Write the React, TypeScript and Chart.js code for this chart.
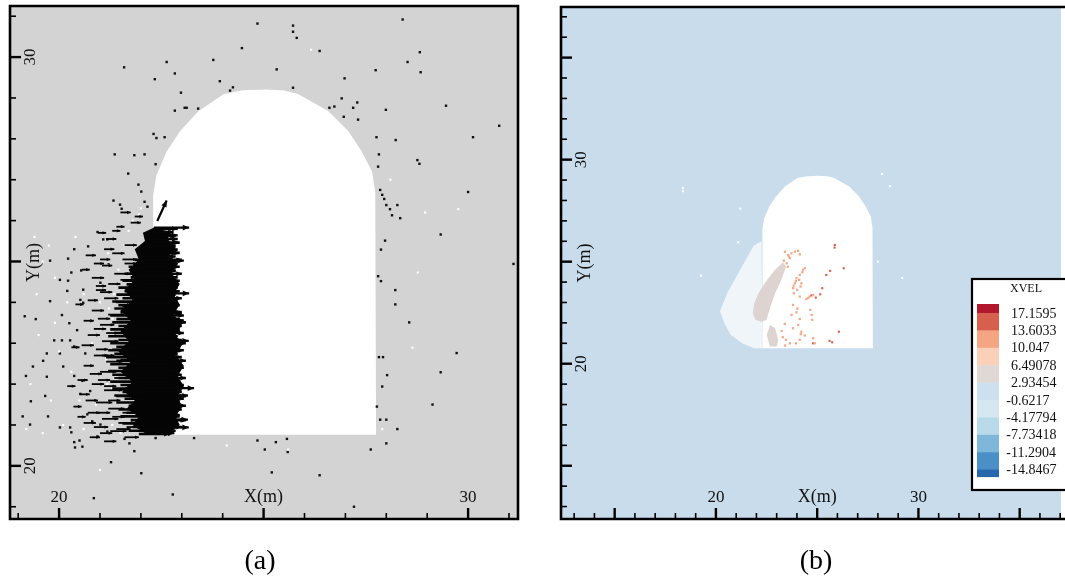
import React, { useEffect, useRef } from 'react';
import { Chart, registerables } from 'chart.js';
Chart.register(...registerables);

// ---------- shared tunnel outline (m) ----------
const tunnelX = [22.30, 22.30, 22.38, 22.63, 22.96, 23.41, 24.03, 24.50, 25.06, 25.50, 25.84, 26.58, 27.07, 27.40, 27.65, 27.73, 27.75];
const tunnelY = [20.76, 26.62, 27.11, 27.69, 28.19, 28.68, 29.10, 29.19, 29.21, 29.18, 29.10, 28.68, 28.19, 27.69, 27.20, 26.70, 20.76];

// ---------- panel (a) ----------
const rangeAX = [18.80, 31.22];
const rangeAY = [18.70, 31.25];

const blackDots: number[][] = [
  [24.85, 30.82], [25.72, 30.77], [25.72, 30.62], [25.81, 30.47], [28.4, 30.92], [24.47, 30.22], [26.37, 30.15], [23.77, 29.93], [22.63, 29.88], [21.59, 29.75],
  [28.52, 29.88], [28.82, 30.12], [28.84, 29.63], [27.74, 29.68], [25.32, 29.70], [22.83, 29.60], [22.34, 29.46], [23.93, 29.41], [26.98, 29.48], [24.18, 29.18],
  [24.25, 29.26], [22.98, 29.13], [25.72, 29.25], [26.91, 28.99], [27.29, 28.89], [26.61, 28.76], [26.73, 28.79], [27.19, 28.76], [27.99, 28.71], [29.46, 28.81],
  [23.07, 28.76], [23.12, 28.76], [23.40, 28.74], [22.83, 28.69], [27.31, 28.47], [26.96, 28.54], [30.76, 28.32], [30.12, 28.04], [27.76, 28.04], [28.23, 27.97],
  [22.31, 28.12], [22.38, 28.02], [22.58, 28.04], [28.76, 27.48], [21.36, 27.62], [21.84, 27.60], [22.09, 27.62], [22.36, 27.38], [21.69, 27.15], [21.49, 26.39],
  [22.09, 26.46], [22.16, 26.34], [21.94, 26.88], [22.01, 26.71],
  [27.82, 27.62], [27.80, 27.32], [27.85, 26.75], [27.90, 26.63], [27.95, 26.53], [28.00, 26.38], [28.09, 26.28], [28.14, 26.13], [28.27, 26.38], [28.34, 26.06],
  [28.81, 27.39], [30.00, 26.70], [29.33, 25.66], [27.97, 25.51], [27.87, 25.29], [27.80, 24.64], [27.87, 24.52], [28.22, 24.30], [28.22, 23.95], [28.56, 23.51],
  [31.11, 24.94], [27.82, 22.66], [27.92, 22.66], [29.72, 22.76], [29.33, 22.29], [28.02, 22.22], [27.90, 21.94], [29.13, 21.50], [27.77, 21.45], [27.85, 21.13],
  [28.00, 21.13], [28.27, 20.90], [28.00, 20.55], [27.62, 20.40],
  [24.85, 20.62], [25.03, 20.40], [25.30, 20.58], [25.57, 20.66], [25.59, 20.34], [23.30, 20.68], [25.20, 19.84], [26.37, 19.77], [22.78, 19.30], [20.85, 19.21],
  [27.21, 19.00], [22.01, 19.82], [21.27, 20.09], [21.84, 20.36], [21.60, 20.66], [21.72, 20.55], [20.37, 20.58], [20.50, 20.62], [22.36, 20.68],
  [21.33, 26.49], [21.53, 26.29], [20.94, 25.72], [21.18, 25.54], [21.08, 25.54], [20.71, 25.37], [20.37, 25.30], [20.22, 25.07], [19.78, 25.02], [20.02, 24.55],
  [20.30, 24.73], [20.54, 24.78], [20.22, 24.53], [21.01, 24.48], [21.21, 24.93], [20.59, 24.31], [20.52, 24.06], [20.59, 23.99], [19.78, 24.03], [20.20, 24.28],
  [19.16, 23.66], [19.43, 23.59], [20.07, 23.69], [20.25, 23.49], [20.44, 23.32], [19.88, 23.07], [20.07, 23.07], [20.27, 23.07], [19.70, 22.75], [20.02, 22.75],
  [20.64, 22.75], [20.37, 22.92], [19.36, 22.43], [19.61, 22.57], [20.10, 22.43], [19.19, 22.20], [19.70, 22.18], [20.37, 22.20], [20.57, 22.08], [20.76, 21.83],
  [19.66, 21.71], [19.31, 21.58], [20.52, 21.76], [19.11, 21.21], [19.73, 21.21], [19.29, 21.01], [20.27, 20.94], [20.30, 20.82], [20.02, 20.94], [20.69, 21.26],
  [20.81, 21.09], [21.01, 21.01], [20.39, 20.45], [20.57, 20.47], [20.94, 20.72], [21.18, 20.84],
];

const whiteDots: number[][] = [
  [19.75, 25.39], [19.60, 25.00], [19.90, 24.60], [20.20, 24.00], [19.50, 23.20], [20.00, 22.80], [20.30, 22.30], [19.80, 21.60], [20.10, 21.00], [20.60, 20.90],
  [20.90, 21.50], [21.10, 22.30], [21.30, 23.00], [21.00, 24.00], [21.20, 24.90], [21.60, 25.40], [21.80, 26.00], [22.00, 26.30], [28.95, 26.20], [28.77, 24.73],
  [28.64, 22.89], [29.76, 26.28], [26.16, 30.18], [21.35, 24.20], [21.30, 23.60], [21.28, 22.70], [21.30, 21.90], [21.38, 21.20], [21.50, 20.80], [21.45, 24.80],
  [19.30, 22.00], [19.45, 24.20], [20.40, 25.60], [24.10, 20.50], [25.60, 20.40], [28.10, 27.00], [27.90, 20.90], [19.20, 20.90],
  [21.20, 25.20], [21.25, 24.45], [21.22, 23.85], [21.18, 23.25], [21.15, 22.60], [21.18, 22.00], [21.22, 21.40], [21.30, 21.00], [19.40, 25.60], [20.60, 24.20],
  [20.80, 23.00], [19.90, 23.50], [20.50, 21.60], [19.60, 20.80], [21.00, 19.90], [21.70, 25.75], [21.95, 26.15],
];

// solid centre of the overlapping arrows (ragged outline)
const coreX = [22.30, 22.75, 22.65, 22.85, 22.70, 22.90, 22.75, 22.95, 22.80, 22.95, 22.80, 23.00, 22.85, 23.00, 22.85, 23.05, 22.90, 23.05, 22.90, 23.00, 22.85, 22.95, 22.70,
  22.10, 21.80, 21.95, 21.65, 21.85, 21.55, 21.80, 21.50, 21.75, 21.45, 21.70, 21.50, 21.75, 21.50, 21.80, 21.60, 21.85, 21.70, 21.95, 21.85, 22.10, 22.05];
const coreY = [25.82, 25.72, 25.55, 25.35, 25.15, 24.95, 24.70, 24.45, 24.20, 23.95, 23.70, 23.45, 23.20, 22.95, 22.70, 22.45, 22.20, 21.95, 21.70, 21.45, 21.20, 21.00, 20.80,
  20.80, 21.00, 21.20, 21.40, 21.60, 21.85, 22.05, 22.30, 22.55, 22.80, 23.05, 23.30, 23.55, 23.80, 24.05, 24.30, 24.55, 24.80, 25.05, 25.30, 25.50, 25.70];

// rows of velocity arrows: y, tail x, tip x
const rowY = [20.78, 20.86, 20.95, 21.04, 21.12, 21.21, 21.30, 21.38, 21.47, 21.55, 21.64, 21.72, 21.81, 21.89, 21.98, 22.06, 22.15, 22.23, 22.32, 22.40,
  22.49, 22.57, 22.66, 22.74, 22.83, 22.91, 23.00, 23.08, 23.17, 23.25, 23.34, 23.42, 23.51, 23.59, 23.68, 23.76, 23.85, 23.93, 24.02, 24.10,
  24.19, 24.27, 24.36, 24.44, 24.53, 24.61, 24.70, 24.78, 24.87, 24.95, 25.04, 25.12, 25.21, 25.29, 25.38, 25.46, 25.55, 25.63, 25.72, 25.80];
const rowTail = [21.95, 21.70, 21.80, 21.55, 21.75, 21.50, 21.65, 21.45, 21.70, 21.40, 21.60, 21.35, 21.55, 21.30, 21.50, 21.25, 21.45, 21.30, 21.20, 21.45,
  21.25, 21.40, 21.15, 21.35, 21.20, 21.40, 21.25, 21.45, 21.20, 21.35, 21.25, 21.45, 21.30, 21.40, 21.25, 21.50, 21.35, 21.45, 21.30, 21.55,
  21.40, 21.60, 21.45, 21.65, 21.55, 21.75, 21.60, 21.80, 21.70, 21.90, 21.85, 22.00, 21.95, 22.10, 22.05, 22.20, 22.15, 22.25, 22.20, 22.30];
const rowTip = [22.70, 22.85, 23.00, 22.90, 23.10, 22.95, 22.85, 23.00, 23.10, 22.95, 23.05, 23.15, 23.00, 22.90, 23.05, 22.95, 23.10, 23.00, 22.85, 23.05,
  22.95, 23.10, 23.00, 22.90, 23.05, 22.95, 23.10, 23.00, 22.90, 23.05, 22.95, 23.00, 23.10, 22.95, 23.05, 23.00, 22.85, 22.95, 22.90, 23.00,
  22.85, 22.95, 22.90, 22.85, 22.95, 22.90, 23.00, 22.85, 22.95, 22.90, 23.00, 22.85, 22.95, 22.90, 22.85, 22.95, 22.90, 22.85, 22.80, 22.90];

// long velocity arrows reaching into the opening: tail x, tail y, dx, dy
const longArrowX = [22.32, 22.30, 22.25, 22.10, 22.10, 22.00, 21.95, 22.00, 21.90, 21.90, 21.90, 21.90, 21.85, 21.85, 21.85, 21.85, 21.90, 21.95, 21.95, 22.00, 22.00, 22.05, 22.10, 22.20, 22.40];
const longArrowY = [25.83, 25.64, 25.46, 25.21, 25.02, 24.77, 24.52, 24.22, 23.98, 23.73, 23.56, 23.31, 23.06, 22.82, 22.57, 22.32, 22.08, 21.90, 21.70, 21.46, 21.25, 21.13, 20.94, 20.80, 25.99];
const longArrowU = [0.86, 0.60, 0.67, 0.80, 0.95, 0.85, 0.87, 1.18, 0.92, 1.10, 1.15, 1.05, 1.32, 1.10, 1.15, 1.06, 1.05, 1.35, 1.15, 1.00, 0.95, 1.10, 1.07, 0.62, 0.23];
const longArrowV = [0, 0, 0, 0, 0, 0, 0, 0, 0, 0, 0, 0, 0, 0, 0, 0, 0, 0, 0, 0, 0, 0, 0, 0, 0.50];

// short arrows in the fringe left of the core
const shortArrowX = [20.95, 21.15, 21.40, 21.60, 21.75, 21.30, 21.55, 21.05, 21.35, 21.20, 21.50, 20.90, 21.10, 21.40, 20.80, 21.20, 21.00, 21.35, 20.70, 21.05, 21.30, 20.85, 21.15, 20.60, 21.00, 21.35, 20.80, 21.10, 20.50, 21.40, 20.90, 21.20, 20.70, 21.05, 21.45, 20.85, 21.25, 21.60, 21.50, 21.85, 20.40, 20.30, 20.20, 20.55, 20.45, 21.65, 21.55, 21.50, 21.55, 21.60,
  20.65, 20.80, 20.70, 20.95, 20.60, 20.85, 20.55, 20.90, 20.75, 20.45, 20.95, 20.65, 20.35, 20.95, 20.60, 21.00, 21.10, 20.75, 21.10, 21.30, 21.00, 20.85, 21.00, 20.90, 21.15, 21.05, 21.10, 21.20, 21.30, 21.40];
const shortArrowY = [25.70, 25.55, 25.85, 25.40, 25.95, 25.20, 25.05, 24.90, 24.70, 24.45, 24.55, 24.30, 24.10, 24.00, 23.80, 23.70, 23.45, 23.35, 23.20, 23.05, 22.85, 22.70, 22.55, 22.45, 22.30, 22.15, 22.00, 21.85, 21.75, 21.70, 21.55, 21.40, 21.30, 21.15, 21.05, 20.95, 20.85, 20.70, 26.20, 26.10, 23.95, 22.90, 21.95, 24.80, 21.20, 20.95, 21.30, 22.60, 23.90, 24.95,
  25.15, 24.60, 24.05, 23.60, 23.55, 23.35, 22.95, 22.85, 22.25, 22.10, 22.10, 21.60, 21.45, 21.30, 21.05, 20.80, 20.60, 20.70, 25.30, 25.75, 25.05, 24.95, 24.25, 24.40, 23.25, 22.70, 21.95, 21.60, 21.20, 20.90];
const shortArrowU = [0.20, 0.25, 0.20, 0.30, 0.25, 0.30, 0.35, 0.25, 0.40, 0.30, 0.35, 0.25, 0.35, 0.35, 0.30, 0.40, 0.35, 0.35, 0.30, 0.40, 0.40, 0.35, 0.40, 0.25, 0.40, 0.35, 0.30, 0.45, 0.25, 0.40, 0.40, 0.40, 0.30, 0.40, 0.40, 0.35, 0.40, 0.35, 0.25, 0.20, 0.20, 0.20, 0.20, 0.20, 0.20, 0.35, 0.40, 0.35, 0.35, 0.30,
  0.25, 0.30, 0.25, 0.30, 0.25, 0.30, 0.30, 0.30, 0.30, 0.25, 0.30, 0.30, 0.20, 0.30, 0.30, 0.30, 0.30, 0.25, 0.25, 0.20, 0.25, 0.25, 0.30, 0.25, 0.30, 0.30, 0.30, 0.30, 0.30, 0.35];

// ---------- panel (b) ----------
const rangeBX = [12.35, 37.04];
const rangeBY = [12.39, 37.48];

const cloudX = [22.25, 21.87, 21.22, 20.57, 20.20, 20.41, 20.73, 21.30, 21.87, 22.30];
const cloudY = [26.00, 25.79, 24.64, 23.48, 22.57, 22.00, 21.42, 21.00, 20.76, 20.76];

const blobX = [23.32, 23.46, 23.32, 23.16, 22.92, 22.75, 22.59, 22.51, 22.26, 21.94, 21.82, 21.89, 22.10, 22.35, 22.59, 22.92];
const blobY = [24.97, 24.76, 24.35, 23.94, 23.45, 22.96, 22.47, 22.15, 22.06, 22.15, 22.47, 22.96, 23.45, 23.86, 24.19, 24.60];
const blob2X = [22.67, 22.92, 23.08, 23.00, 22.67, 22.51];
const blob2Y = [21.90, 21.74, 21.17, 20.84, 20.84, 21.41];

const orangeDots: number[][] = [
  [23.41, 25.49], [23.57, 25.33], [23.73, 25.41], [23.90, 25.49], [24.06, 25.53], [24.14, 25.36], [23.65, 25.17], [23.49, 24.92], [24.39, 24.68], [24.27, 24.48],
  [24.14, 24.35], [23.98, 24.19], [23.90, 23.94], [23.81, 23.70], [23.85, 23.45], [24.01, 23.62], [24.22, 23.94], [24.11, 24.11], [24.63, 23.29], [24.80, 23.37],
  [24.47, 23.17], [24.14, 23.29], [23.81, 22.88], [23.98, 22.52], [24.14, 22.19], [24.06, 21.90], [24.22, 21.57], [24.39, 21.38], [24.14, 21.17], [23.95, 21.00],
  [23.65, 21.00], [23.46, 21.17], [23.41, 20.89], [24.66, 22.64], [24.73, 22.39], [24.76, 22.15], [24.80, 21.25], [24.88, 21.00], [23.73, 22.39], [23.81, 21.74],
  [24.30, 24.60], [23.95, 24.05], [23.84, 23.82], [24.18, 23.78], [24.02, 22.70], [24.19, 21.45], [24.55, 23.22], [23.60, 25.25], [23.35, 25.05], [23.55, 24.75],
  [23.30, 21.30], [23.25, 21.60], [23.40, 21.95],
];
const redDots: number[][] = [
  [25.86, 25.69], [26.31, 24.68], [25.64, 24.55], [25.45, 24.35], [25.25, 23.70], [25.15, 23.40], [24.71, 23.34], [24.93, 23.24], [26.07, 21.57], [25.61, 21.12],
  [25.74, 21.05], [24.80, 21.00], [25.87, 25.82],
];
const whiteDotsB: number[][] = [
  [18.37, 28.60], [18.37, 28.45], [19.27, 24.31], [29.20, 24.20], [28.20, 29.30], [28.60, 28.70], [21.20, 27.60], [28.00, 25.00], [22.80, 27.40], [21.10, 25.95],
];

const legendTitle = 'XVEL';
const legendLevels = ['17.1595', '13.6033', '10.047', '6.49078', '2.93454', '-0.6217', '-4.17794', '-7.73418', '-11.2904', '-14.8467'];
const legendColors = ['#b2182b', '#d6604d', '#f4a582', '#fbd0b9', '#e0d8d5', '#cde0ef', '#d6e7f2', '#badaea', '#7fb7da', '#4a8fc6', '#2566ad'];

const FONT = '"Liberation Serif", "Times New Roman", serif';
const TICK_STEP = 1;
const MAJOR_EVERY = 5;
const LABEL_EVERY = 10;
const X_TITLE_AT = 25;

function pathPoly(ctx: CanvasRenderingContext2D, chart: any, xs: number[], ys: number[]) {
  const sx = chart.scales.x, sy = chart.scales.y;
  ctx.beginPath();
  xs.forEach((x, i) => {
    const px = sx.getPixelForValue(x), py = sy.getPixelForValue(ys[i]);
    if (i === 0) ctx.moveTo(px, py); else ctx.lineTo(px, py);
  });
  ctx.closePath();
}

function drawArrow(ctx: CanvasRenderingContext2D, x0: number, y0: number, x1: number, y1: number, head: number, width: number) {
  ctx.lineWidth = width;
  ctx.beginPath(); ctx.moveTo(x0, y0); ctx.lineTo(x1, y1); ctx.stroke();
  const a = Math.atan2(y1 - y0, x1 - x0);
  ctx.beginPath();
  ctx.moveTo(x1, y1);
  ctx.lineTo(x1 - head * Math.cos(a - 0.42), y1 - head * Math.sin(a - 0.42));
  ctx.lineTo(x1 - head * Math.cos(a + 0.42), y1 - head * Math.sin(a + 0.42));
  ctx.closePath(); ctx.fill();
}

function drawAxes(chart: any, opts: { rightBorder: boolean; panel: string; panelX: number }) {
  const ctx: CanvasRenderingContext2D = chart.ctx;
  const ca = chart.chartArea;
  const sx = chart.scales.x, sy = chart.scales.y;
  ctx.save();
  ctx.strokeStyle = '#000';
  ctx.fillStyle = '#111';
  ctx.lineWidth = 2.6;
  ctx.beginPath();
  if (opts.rightBorder) {
    ctx.rect(ca.left, ca.top, ca.right - ca.left, ca.bottom - ca.top);
  } else {
    ctx.moveTo(ca.right + 5, ca.top); ctx.lineTo(ca.left, ca.top); ctx.lineTo(ca.left, ca.bottom); ctx.lineTo(ca.right + 5, ca.bottom);
  }
  ctx.stroke();
  for (let v = Math.ceil(sx.min); v <= sx.max; v += TICK_STEP) {
    const px = sx.getPixelForValue(v);
    const major = v % MAJOR_EVERY === 0;
    ctx.lineWidth = major ? 2.4 : 1.6;
    ctx.beginPath(); ctx.moveTo(px, ca.bottom); ctx.lineTo(px, ca.bottom - (major ? 11 : 6)); ctx.stroke();
    if (v % LABEL_EVERY === 0) {
      ctx.font = `17px ${FONT}`; ctx.textAlign = 'center'; ctx.textBaseline = 'middle';
      ctx.fillText(String(v), px, ca.bottom - 21);
    }
  }
  for (let v = Math.ceil(sy.min); v <= sy.max; v += TICK_STEP) {
    const py = sy.getPixelForValue(v);
    const major = v % MAJOR_EVERY === 0;
    ctx.lineWidth = major ? 2.4 : 1.6;
    ctx.beginPath(); ctx.moveTo(ca.left, py); ctx.lineTo(ca.left + (major ? 11 : 6), py); ctx.stroke();
    if (v % LABEL_EVERY === 0) {
      ctx.save();
      ctx.translate(ca.left + 21, py); ctx.rotate(-Math.PI / 2);
      ctx.font = `17px ${FONT}`; ctx.textAlign = 'center'; ctx.textBaseline = 'middle';
      ctx.fillText(String(v), 0, 0);
      ctx.restore();
    }
  }
  ctx.font = `18px ${FONT}`; ctx.textAlign = 'center'; ctx.textBaseline = 'middle';
  ctx.fillText('X(m)', sx.getPixelForValue(X_TITLE_AT), ca.bottom - 22);
  ctx.save();
  ctx.translate(ca.left + 24, (ca.top + ca.bottom) / 2); ctx.rotate(-Math.PI / 2);
  ctx.fillText('Y(m)', 0, 0);
  ctx.restore();
  ctx.font = `28px ${FONT}`;
  ctx.fillStyle = '#000';
  ctx.fillText(opts.panel, opts.panelX, 562);
  ctx.restore();
}

function toPts(arr: number[][]) { return arr.map(([x, y]) => ({ x, y })); }

const baseOptions = (rx: number[], ry: number[], pad: any) => ({
  animation: false as const,
  responsive: false,
  devicePixelRatio: 1,
  events: [] as any[],
  layout: { padding: pad },
  scales: {
    x: { type: 'linear' as const, min: rx[0], max: rx[1], display: false },
    y: { type: 'linear' as const, min: ry[0], max: ry[1], display: false },
  },
  plugins: { legend: { display: false }, tooltip: { enabled: false } },
});

export default function App() {
  const refA = useRef<HTMLCanvasElement>(null);
  const refB = useRef<HTMLCanvasElement>(null);

  useEffect(() => {
    const pluginA = {
      id: 'panelA',
      beforeDatasetsDraw(chart: any) {
        const ctx = chart.ctx, ca = chart.chartArea;
        ctx.save();
        ctx.fillStyle = '#d3d3d3';
        ctx.fillRect(ca.left, ca.top, ca.right - ca.left, ca.bottom - ca.top);
        ctx.fillStyle = '#ffffff';
        pathPoly(ctx, chart, tunnelX, tunnelY); ctx.fill();
        ctx.restore();
      },
      afterDatasetsDraw(chart: any) {
        const ctx = chart.ctx, sx = chart.scales.x, sy = chart.scales.y;
        ctx.save();
        ctx.fillStyle = '#050505'; ctx.strokeStyle = '#050505';
        shortArrowX.forEach((x, i) => {
          const y = shortArrowY[i];
          drawArrow(ctx, sx.getPixelForValue(x), sy.getPixelForValue(y), sx.getPixelForValue(x + shortArrowU[i]), sy.getPixelForValue(y), 4, 1.8);
        });
        pathPoly(ctx, chart, coreX, coreY); ctx.fill();
        rowY.forEach((y, i) => {
          drawArrow(ctx, sx.getPixelForValue(rowTail[i]), sy.getPixelForValue(y), sx.getPixelForValue(rowTip[i]), sy.getPixelForValue(y), 6, 2.6);
        });
        longArrowX.forEach((x, i) => {
          const y = longArrowY[i];
          drawArrow(ctx, sx.getPixelForValue(x), sy.getPixelForValue(y), sx.getPixelForValue(x + longArrowU[i]), sy.getPixelForValue(y + longArrowV[i]), 7, 2.2);
        });
        ctx.restore();
      },
      afterDraw(chart: any) { drawAxes(chart, { rightBorder: true, panel: '(a)', panelX: 260 }); },
    };

    const pluginB = {
      id: 'panelB',
      beforeDatasetsDraw(chart: any) {
        const ctx = chart.ctx, ca = chart.chartArea;
        ctx.save();
        ctx.fillStyle = '#c9dcec';
        ctx.fillRect(ca.left, ca.top, ca.right - ca.left, ca.bottom - ca.top);
        ctx.fillStyle = 'rgba(255,255,255,0.72)';
        pathPoly(ctx, chart, cloudX, cloudY); ctx.fill();
        ctx.fillStyle = '#ffffff';
        pathPoly(ctx, chart, tunnelX, tunnelY); ctx.fill();
        ctx.fillStyle = '#ddd4d1';
        pathPoly(ctx, chart, blobX, blobY); ctx.fill();
        pathPoly(ctx, chart, blob2X, blob2Y); ctx.fill();
        ctx.restore();
      },
      afterDraw(chart: any) {
        drawAxes(chart, { rightBorder: false, panel: '(b)', panelX: 271 });
        const ctx: CanvasRenderingContext2D = chart.ctx;
        ctx.save();
        const bx = 427, by = 279, bw = 100, bh = 211;
        ctx.fillStyle = '#fff';
        ctx.fillRect(bx, by, bw, bh);
        ctx.strokeStyle = '#000'; ctx.lineWidth = 2.2;
        ctx.strokeRect(bx, by, bw, bh);
        ctx.fillStyle = '#111';
        ctx.font = `12px ${FONT}`; ctx.textAlign = 'center'; ctx.textBaseline = 'middle';
        ctx.fillText(legendTitle, 481, 289);
        const step = 17.4, first = 313, sw0 = 432, sw1 = 454;
        legendColors.forEach((c, i) => {
          const top = i === 0 ? first - 9 : first + (i - 1) * step;
          const bot = i === legendColors.length - 1 ? first + (i - 1) * step + 7 : first + i * step;
          ctx.fillStyle = c;
          ctx.fillRect(sw0, top, sw1 - sw0, bot - top + 0.5);
        });
        ctx.font = `14px ${FONT}`; ctx.textAlign = 'left'; ctx.fillStyle = '#111';
        const dash = ctx.measureText('-').width;
        legendLevels.forEach((t, i) => {
          const x0 = 466 - (t.startsWith('-') ? dash : 0);
          ctx.fillText(t, x0, first + i * step + 1);
        });
        ctx.restore();
      },
    };

    const chartA = new Chart(refA.current!, {
      type: 'scatter',
      data: {
        datasets: [
          { data: toPts(whiteDots), backgroundColor: '#ffffff', pointStyle: 'rect', pointRadius: 1.5, borderWidth: 0 },
          { data: toPts(blackDots), backgroundColor: '#111111', pointStyle: 'rect', pointRadius: 1.7, borderWidth: 0 },
        ],
      },
      options: baseOptions(rangeAX, rangeAY, { left: 10, top: 6, right: 22, bottom: 61 }) as any,
      plugins: [pluginA],
    });

    const chartB = new Chart(refB.current!, {
      type: 'scatter',
      data: {
        datasets: [
          { data: toPts(whiteDotsB), backgroundColor: '#ffffff', pointStyle: 'rect', pointRadius: 1.4, borderWidth: 0 },
          { data: toPts(orangeDots), backgroundColor: '#f2a988', pointStyle: 'rect', pointRadius: 1.6, borderWidth: 0 },
          { data: toPts(redDots), backgroundColor: '#d6604d', pointStyle: 'rect', pointRadius: 1.5, borderWidth: 0 },
        ],
      },
      options: baseOptions(rangeBX, rangeBY, { left: 16, top: 7, right: 0, bottom: 61 }) as any,
      plugins: [pluginB],
    });

    return () => { chartA.destroy(); chartB.destroy(); };
  }, []);

  return (
    <div style={{ position: 'absolute', left: 0, top: 0, width: 1065, height: 580, background: '#ffffff', overflow: 'hidden' }}>
      <canvas ref={refA} width={540} height={580} style={{ position: 'absolute', left: 0, top: 0 }} />
      <canvas ref={refB} width={520} height={580} style={{ position: 'absolute', left: 545, top: 0 }} />
    </div>
  );
}
